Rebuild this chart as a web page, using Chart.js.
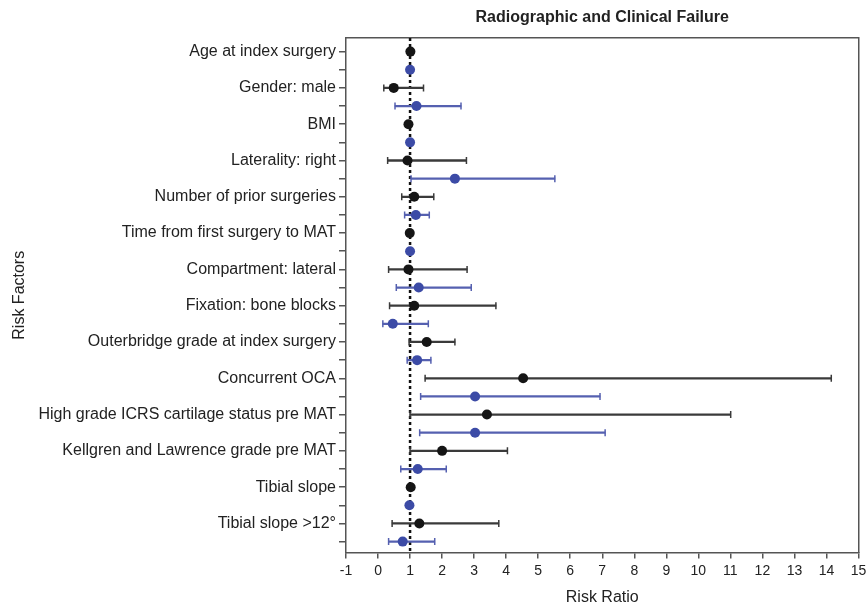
<!DOCTYPE html>
<html>
<head>
<meta charset="utf-8">
<script src="https://cdn.jsdelivr.net/npm/chart.js@4"></script>
<style>
  html, body { margin: 0; padding: 0; background: #fff; }
  #wrap { width: 867px; height: 611px; }
</style>
</head>
<body>
<div id="wrap"><canvas id="canvas" width="867" height="611"></canvas></div>
<script>
// risk factors, top to bottom
var factors = [
  "Age at index surgery",
  "Gender: male",
  "BMI",
  "Laterality: right",
  "Number of prior surgeries",
  "Time from first surgery to MAT",
  "Compartment: lateral",
  "Fixation: bone blocks",
  "Outerbridge grade at index surgery",
  "Concurrent OCA",
  "High grade ICRS cartilage status pre MAT",
  "Kellgren and Lawrence grade pre MAT",
  "Tibial slope",
  "Tibial slope >12°"
];

// black series (first row of each factor)
var blackRR = [1.01, 0.49, 0.95, 0.92, 1.13, 0.99, 0.95, 1.13, 1.52, 4.53, 3.40, 2.00, 1.02, 1.29];
var blackLo = [0.98, 0.18, 0.90, 0.30, 0.74, 0.97, 0.33, 0.36, 0.97, 1.47, 1.00, 1.00, 0.96, 0.44];
var blackHi = [1.04, 1.42, 1.00, 2.76, 1.74, 1.01, 2.78, 3.68, 2.40, 14.15, 11.01, 4.04, 1.10, 3.77];

// blue series (second row of each factor)
var blueRR = [1.00, 1.20, 1.00, 2.40, 1.18, 1.00, 1.27, 0.46, 1.22, 3.03, 3.03, 1.24, 0.98, 0.77];
var blueLo = [0.98, 0.53, 0.97, 1.03, 0.83, 0.99, 0.57, 0.15, 0.91, 1.33, 1.30, 0.71, 0.95, 0.33];
var blueHi = [1.02, 2.59, 1.03, 5.52, 1.60, 1.01, 2.91, 1.57, 1.65, 6.93, 7.09, 2.13, 1.01, 1.77];

var xTicks = [-1, 0, 1, 2, 3, 4, 5, 6, 7, 8, 9, 10, 11, 12, 13, 14, 15];
var refValue = 1;

var BLACK = "#151515", BLACK_LINE = "#3a3a3a";
var BLUE = "#3c4ba6", BLUE_LINE = "#5560b0";
var FONT = "'Liberation Sans', Arial, sans-serif";

// two rows per factor: even = black, odd = blue
var rowLabels = [];
factors.forEach(function(f) { rowLabels.push(f); rowLabels.push(""); });
var rows = rowLabels.map(function(l, i) { return i; });

function bars(rr, lo, hi, off) {
  return rr.map(function(v, i) { return {x: [lo[i], hi[i]], y: 2 * i + off}; });
}
function caps(lo, hi, off) {
  var out = [];
  lo.forEach(function(v, i) {
    out.push({x: lo[i], y: 2 * i + off});
    out.push({x: hi[i], y: 2 * i + off});
  });
  return out;
}
function points(rr, off) {
  return rr.map(function(v, i) { return {x: v, y: 2 * i + off}; });
}

var config = {
  type: "scatter",
  data: {
    datasets: [
      {type: "line", data: [{x: refValue, y: -0.75}, {x: refValue, y: 27.6}],
       borderColor: "#111", borderWidth: 2.5, borderDash: [3, 3], pointRadius: 0, order: 5},
      {type: "bar", indexAxis: "y", grouped: false, barThickness: 1.6,
       data: bars(blackRR, blackLo, blackHi, 0), backgroundColor: BLACK_LINE, order: 4},
      {type: "bar", indexAxis: "y", grouped: false, barThickness: 1.6,
       data: bars(blueRR, blueLo, blueHi, 1), backgroundColor: BLUE_LINE, order: 4},
      {data: caps(blackLo, blackHi, 0), pointStyle: "line", rotation: 90, radius: 3.5,
       borderColor: BLACK_LINE, borderWidth: 1.5, order: 3},
      {data: caps(blueLo, blueHi, 1), pointStyle: "line", rotation: 90, radius: 3.5,
       borderColor: BLUE_LINE, borderWidth: 1.5, order: 3},
      {data: points(blackRR, 0), pointStyle: "circle", radius: 5,
       backgroundColor: BLACK, borderColor: BLACK, borderWidth: 0, order: 1},
      {data: points(blueRR, 1), pointStyle: "circle", radius: 5,
       backgroundColor: BLUE, borderColor: BLUE, borderWidth: 0, order: 1}
    ]
  },
  options: {
    responsive: false,
    animation: false,
    layout: {padding: {left: 0, right: 8, top: 0, bottom: 0}},
    plugins: {
      legend: {display: false},
      tooltip: {enabled: false},
      title: {
        display: true, fullSize: false,
        text: "Radiographic and Clinical Failure",
        color: "#222",
        font: {family: FONT, size: 16, weight: "bold"},
        padding: {top: 8, bottom: 10.8}
      }
    },
    scales: {
      x: {
        type: "linear", position: "bottom", min: -1, max: 15, offset: false,
        afterBuildTicks: function(s) { s.ticks = xTicks.map(function(v) { return {value: v}; }); },
        afterFit: function(s) { s.height = 58.5; s.paddingRight = 8.5; s.paddingLeft = 0; },
        ticks: {color: "#222", font: {family: FONT, size: 14}, padding: 4, autoSkip: false},
        grid: {drawOnChartArea: false, offset: false, tickLength: 6, color: "#555", lineWidth: 1.5},
        border: {color: "#555", width: 1.5},
        title: {display: true, text: "Risk Ratio", color: "#222",
                font: {family: FONT, size: 16}, padding: {top: 4, bottom: 4}}
      },
      y: {
        type: "linear", position: "left", reverse: true, min: -0.75, max: 27.6, offset: false,
        afterBuildTicks: function(s) { s.ticks = rows.map(function(v) { return {value: v}; }); },
        afterFit: function(s) { s.width = 346; },
        ticks: {
          color: "#222", font: {family: FONT, size: 16}, padding: 3, autoSkip: false,
          callback: function(v) { return rowLabels[v]; }
        },
        grid: {drawOnChartArea: false, offset: false, tickLength: 7, color: "#555", lineWidth: 1.5},
        border: {color: "#555", width: 1.5},
        title: {display: true, text: "Risk Factors", color: "#222",
                font: {family: FONT, size: 16}, padding: {top: 10, bottom: 0}}
      },
      x2: {
        type: "linear", position: "top", display: true,
        afterFit: function(s) { s.height = 0; },
        ticks: {display: false}, grid: {display: false},
        border: {color: "#555", width: 1.5}
      },
      y2: {
        type: "linear", position: "right", display: true,
        afterFit: function(s) { s.width = 0; },
        ticks: {display: false}, grid: {display: false},
        border: {color: "#555", width: 1.5}
      }
    }
  }
};

window.onload = function() {
  var ctx = document.getElementById("canvas").getContext("2d");
  window.graph1 = new Chart(ctx, config);
};
</script>
</body>
</html>
